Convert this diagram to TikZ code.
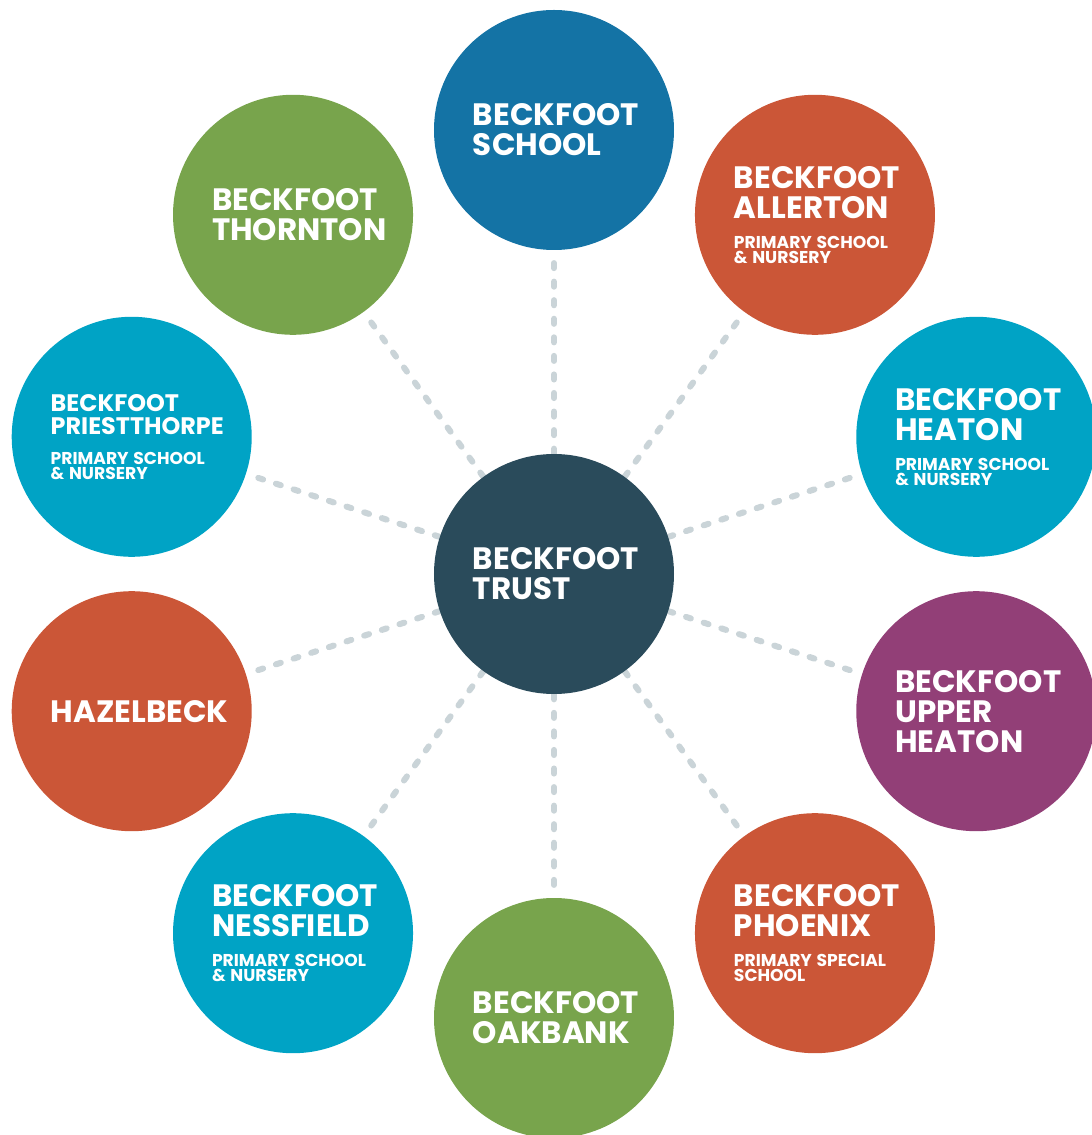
\documentclass[tikz,border=0pt]{standalone}
\usepackage{fontspec}
\setmainfont{Poppins}
\usetikzlibrary{backgrounds}

\definecolor{trustblau}{HTML}{2A4B5B}
\definecolor{schulblau}{HTML}{1473A5}
\definecolor{rot}{HTML}{CB5637}
\definecolor{tuerkis}{HTML}{00A3C5}
\definecolor{lila}{HTML}{923F77}
\definecolor{gruen}{HTML}{78A44C}
\definecolor{strich}{HTML}{CAD4D8}

\begin{document}
\begin{tikzpicture}[
	schule/.style={circle,minimum size=6cm,inner sep=0pt,text width=4.05cm,
		align=left,text=white,font=\bfseries},
	verbindung/.style={line width=4.3pt,color=strich,line cap=round,
		dash pattern=on 3.6pt off 9.6pt}]

\def\titel#1{{\fontsize{22}{21.3}\selectfont #1\par}}
\def\titelklein#1{{\fontsize{17}{16.6}\selectfont #1\par}}
\def\zusatz#1{\vspace{10.6pt}{\fontsize{12.2}{10.7}\selectfont #1\par}}

\useasboundingbox (-13.85,-14.025) rectangle (13.425,14.35);

\node[schule,fill=trustblau] (trust) at (0,0) {\titel{BECKFOOT\\TRUST}};

\node[schule,fill=schulblau] (school) at (90:11.1)
	{\titel{BECKFOOT\\SCHOOL}};
\node[schule,fill=rot] (allerton) at (54:11.1)
	{\titel{BECKFOOT\\ALLERTON}\zusatz{PRIMARY SCHOOL\\\& NURSERY}};
\node[schule,fill=tuerkis] (heaton) at (18:11.1)
	{\titel{BECKFOOT\\HEATON}\zusatz{PRIMARY SCHOOL\\\& NURSERY}};
\node[schule,fill=lila] (upperheaton) at (-18:11.1)
	{\titel{BECKFOOT\\UPPER\\HEATON}};
\node[schule,fill=rot] (phoenix) at (-54:11.1)
	{\titel{BECKFOOT\\PHOENIX}\zusatz{PRIMARY SPECIAL\\SCHOOL}};
\node[schule,fill=gruen] (oakbank) at (-90:11.1)
	{\titel{BECKFOOT\\OAKBANK}};
\node[schule,fill=tuerkis] (nessfield) at (-126:11.1)
	{\titel{BECKFOOT\\NESSFIELD}\zusatz{PRIMARY SCHOOL\\\& NURSERY}};
\node[schule,fill=rot] (hazelbeck) at (-162:11.1)
	{\titel{HAZELBECK}};
\node[schule,fill=tuerkis] (priestthorpe) at (162:11.1)
	{\titelklein{BECKFOOT\\PRIESTTHORPE}\zusatz{PRIMARY SCHOOL\\\& NURSERY}};
\node[schule,fill=gruen] (thornton) at (126:11.1)
	{\titel{BECKFOOT\\THORNTON}};

% gestrichelte Verbindungen hinter den Kreisen
\begin{scope}[on background layer]
	\foreach \s in {school,allerton,heaton,upperheaton,phoenix,
		oakbank,nessfield,hazelbeck,priestthorpe,thornton}
		\draw[verbindung] (trust) -- (\s);
\end{scope}

\end{tikzpicture}
\end{document}
